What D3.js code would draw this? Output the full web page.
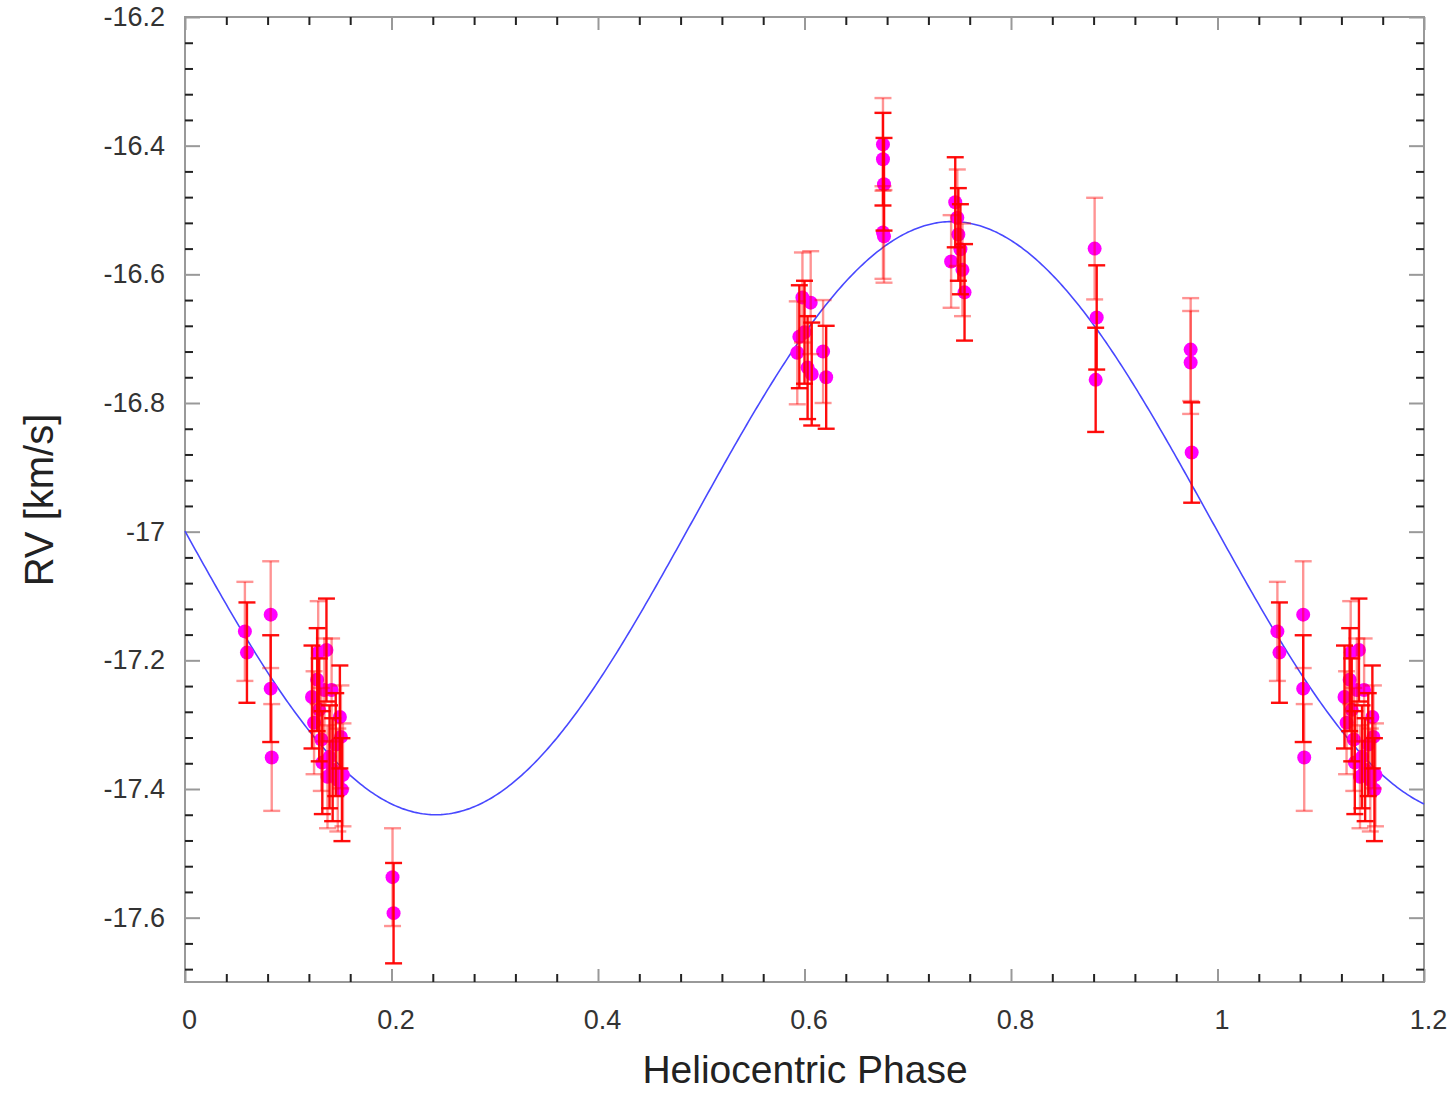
<!DOCTYPE html>
<html>
<head>
<meta charset="utf-8">
<script src="https://cdn.jsdelivr.net/npm/d3@7"></script>
<style>
  html, body { margin: 0; padding: 0; background: #fff; }
  svg { display: block; }
  text { font-family: "Liberation Sans", Arial, Helvetica, sans-serif; }
</style>
</head>
<body>
<svg id="chart" width="1454" height="1093"></svg>
<script>
// ---- data ----
const phases = [
  0.058, 0.060,
  0.083, 0.083, 0.084,
  0.123, 0.125, 0.128, 0.129, 0.130, 0.132, 0.133, 0.135, 0.137, 0.138, 0.140,
  0.142, 0.143, 0.146, 0.148, 0.150, 0.151, 0.152, 0.153,
  0.201, 0.202,
  0.593, 0.595, 0.598, 0.600, 0.603, 0.606, 0.607, 0.618, 0.621,
  0.676, 0.676, 0.677, 0.676, 0.677,
  0.742, 0.746, 0.748, 0.749, 0.751, 0.753, 0.755,
  0.881, 0.883, 0.882,
  0.974, 0.974, 0.975
];
const rvValues = [
  -17.155, -17.188,
  -17.129, -17.244, -17.351,
  -17.257, -17.297, -17.230, -17.188, -17.277, -17.323, -17.359, -17.246, -17.184, -17.381, -17.350,
  -17.246, -17.370, -17.331, -17.386, -17.288, -17.319, -17.401, -17.378,
  -17.537, -17.593,
  -16.722, -16.697, -16.636, -16.690, -16.745, -16.644, -16.755, -16.720, -16.760,
  -16.398, -16.421, -16.460, -16.535, -16.541,
  -16.580, -16.488, -16.512, -16.538, -16.561, -16.593, -16.628,
  -16.560, -16.667, -16.764,
  -16.717, -16.737, -16.877
];
const rvErrors = [
  0.077, 0.078,
  0.083, 0.083, 0.083,
  0.080, 0.080, 0.080, 0.080, 0.080, 0.080, 0.080, 0.080, 0.080, 0.080, 0.080,
  0.080, 0.080, 0.080, 0.080, 0.080, 0.080, 0.080, 0.080,
  0.076, 0.078,
  0.080, 0.080, 0.070, 0.080, 0.080, 0.080, 0.080, 0.080, 0.080,
  0.072, 0.072, 0.072, 0.072, 0.072,
  0.072, 0.070, 0.075, 0.072, 0.070, 0.072, 0.075,
  0.079, 0.081, 0.081,
  0.080, 0.080, 0.078
];
// 1 = strong (opaque) error bar, 0 = faint error bar
const barStrength = [
  0, 1,
  0, 1, 0,
  1, 0, 1, 0, 1, 0, 1, 0, 1, 0, 1,
  0, 1, 1, 0, 1, 0, 1, 0,
  0, 1,
  0, 1, 0, 1, 1, 0, 1, 0, 1,
  0, 1, 1, 0, 0,
  0, 1, 0, 1, 1, 0, 1,
  0, 1, 1,
  0, 0, 1
];
// fitted sinusoid parameters: rv = gamma - K * sin(2π(φ - φ0))
const curveGamma = -16.979;
const curveK = 0.461;
const curvePhase0 = -0.007;

const xTickValues = [0, 0.2, 0.4, 0.6, 0.8, 1, 1.2];
const yTickValues = [-16.2, -16.4, -16.6, -16.8, -17, -17.2, -17.4, -17.6];
const xLabel = "Heliocentric Phase";
const yLabel = "RV [km/s]";

(function draw() {
  // ---- layout ----
  const pL = 185, pR = 1424, pT = 17, pB = 982;
  const svg = d3.select("#chart");
  const x = d3.scaleLinear().domain([0, 1.2]).range([pL, pR]);
  const y = d3.scaleLinear().domain([-17.7, -16.2]).range([pB, pT]);

  const fmt = d => String(+(+d).toFixed(1));

  // minor ticks every 0.04
  const xMinor = d3.range(0, 1.2001, 0.04).filter(v => !xTickValues.some(t => Math.abs(t - v) < 1e-6));
  const yMinor = d3.range(-17.68, -16.1999, 0.04).filter(v => !yTickValues.some(t => Math.abs(t - v) < 1e-6));

  // frame
  svg.append("rect")
    .attr("x", pL).attr("y", pT)
    .attr("width", pR - pL).attr("height", pB - pT)
    .attr("fill", "none").attr("stroke", "#999").attr("stroke-width", 2);

  function styleAxis(g, color, width) {
    g.select(".domain").remove();
    g.selectAll(".tick line").attr("stroke", color).attr("stroke-width", width);
    g.selectAll("text").attr("fill", "#333").attr("font-size", 27)
      .style("font-family", '"Liberation Sans", Arial, sans-serif');
  }

  // major axes (ticks inward)
  svg.append("g").attr("transform", `translate(0,${pB})`)
    .call(d3.axisBottom(x).tickValues(xTickValues).tickSize(-13).tickPadding(28).tickFormat(fmt))
    .call(g => styleAxis(g, "#999", 2))
    .call(g => g.selectAll("text").attr("dx", 4));
  svg.append("g").attr("transform", `translate(0,${pT})`)
    .call(d3.axisTop(x).tickValues(xTickValues).tickSize(-13).tickFormat(""))
    .call(g => styleAxis(g, "#999", 2));
  svg.append("g").attr("transform", `translate(${pL},0)`)
    .call(d3.axisLeft(y).tickValues(yTickValues).tickSize(-15).tickPadding(20).tickFormat(fmt))
    .call(g => styleAxis(g, "#999", 2));
  svg.append("g").attr("transform", `translate(${pR},0)`)
    .call(d3.axisRight(y).tickValues(yTickValues).tickSize(-15).tickFormat(""))
    .call(g => styleAxis(g, "#999", 2));

  // minor ticks
  svg.append("g").attr("transform", `translate(0,${pB})`)
    .call(d3.axisBottom(x).tickValues(xMinor).tickSize(-8).tickFormat(""))
    .call(g => styleAxis(g, "#222", 2));
  svg.append("g").attr("transform", `translate(0,${pT})`)
    .call(d3.axisTop(x).tickValues(xMinor).tickSize(-8).tickFormat(""))
    .call(g => styleAxis(g, "#222", 2));
  svg.append("g").attr("transform", `translate(${pL},0)`)
    .call(d3.axisLeft(y).tickValues(yMinor).tickSize(-8).tickFormat(""))
    .call(g => styleAxis(g, "#222", 2));
  svg.append("g").attr("transform", `translate(${pR},0)`)
    .call(d3.axisRight(y).tickValues(yMinor).tickSize(-8).tickFormat(""))
    .call(g => styleAxis(g, "#222", 2));

  // axis titles
  svg.append("text")
    .attr("x", 805).attr("y", 1083)
    .attr("text-anchor", "middle")
    .attr("font-size", 39).attr("fill", "#222")
    .text(xLabel);
  svg.append("text")
    .attr("transform", "translate(53,500) rotate(-90)")
    .attr("text-anchor", "middle")
    .attr("font-size", 40).attr("fill", "#222")
    .text(yLabel);

  // ---- model curve ----
  const curvePhases = d3.range(0, 1.2001, 0.002);
  const line = d3.line()
    .x(p => x(p))
    .y(p => y(curveGamma - curveK * Math.sin(2 * Math.PI * (p - curvePhase0))));
  svg.append("path")
    .datum(curvePhases)
    .attr("d", line)
    .attr("fill", "none")
    .attr("stroke", "#4848ff")
    .attr("stroke-width", 1.6);

  // ---- data points (phase-folded, repeated to 1.2) ----
  const points = [];
  phases.forEach((p, i) => {
    [p, p + 1].forEach(ph => {
      if (ph <= 1.2) points.push({ ph, rv: rvValues[i], err: rvErrors[i], s: barStrength[i] });
    });
  });

  svg.append("clipPath").attr("id", "clip")
    .append("rect").attr("x", pL).attr("y", pT).attr("width", pR - pL).attr("height", pB - pT);

  const gData = svg.append("g").attr("clip-path", "url(#clip)");

  gData.selectAll("circle.pt")
    .data(points).enter().append("circle")
    .attr("class", "pt")
    .attr("cx", d => x(d.ph)).attr("cy", d => y(d.rv))
    .attr("r", 7)
    .attr("fill", "#ff00ff");

  const cap = 8.5;
  const eb = gData.selectAll("g.eb").data(points).enter().append("g")
    .attr("class", "eb")
    .attr("stroke", "#ff0000")
    .attr("stroke-opacity", d => d.s ? 0.95 : 0.42)
    .attr("stroke-width", 2.4);
  eb.append("line")
    .attr("x1", d => x(d.ph)).attr("x2", d => x(d.ph))
    .attr("y1", d => y(d.rv - d.err)).attr("y2", d => y(d.rv + d.err));
  eb.append("line")
    .attr("x1", d => x(d.ph) - cap).attr("x2", d => x(d.ph) + cap)
    .attr("y1", d => y(d.rv - d.err)).attr("y2", d => y(d.rv - d.err));
  eb.append("line")
    .attr("x1", d => x(d.ph) - cap).attr("x2", d => x(d.ph) + cap)
    .attr("y1", d => y(d.rv + d.err)).attr("y2", d => y(d.rv + d.err));
})();
</script>
</body>
</html>
